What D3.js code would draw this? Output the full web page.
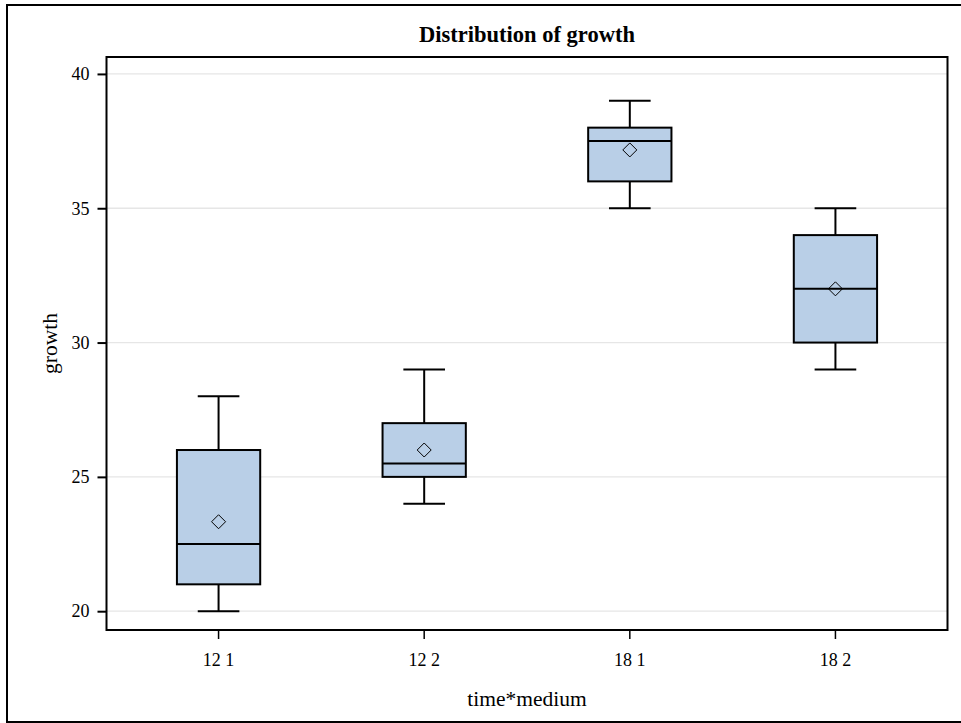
<!DOCTYPE html>
<html>
<head>
<meta charset="utf-8">
<script src="https://cdn.jsdelivr.net/npm/d3@7"></script>
<style>
  html, body { margin: 0; padding: 0; background: #fff; }
  svg text { font-family: "Liberation Serif", "DejaVu Serif", serif; fill: #000; }
</style>
</head>
<body>
<div id="chart"></div>
<script>
// groups on the x axis (time*medium)
const categories = ["12 1", "12 2", "18 1", "18 2"];
// five-number summaries per group, plus mean
const whiskerLow = [20, 24, 35, 29];
const q1 = [21, 25, 36, 30];
const median = [22.5, 25.5, 37.5, 32];
const q3 = [26, 27, 38, 34];
const whiskerHigh = [28, 29, 39, 35];
const means = [23.33, 26, 37.17, 32];
const yTicks = [20, 25, 30, 35, 40];

const width = 961, height = 723;
const margin = { left: 106.5, top: 57, right: 961 - 947.5, bottom: 723 - 630 };
const plotW = width - margin.right - margin.left;
const plotCx = margin.left + plotW / 2;

const svg = d3.select("#chart").append("svg")
    .attr("width", width)
    .attr("height", height);

// outer frame (right edge runs off the picture)
svg.append("rect")
    .attr("x", 7).attr("y", 5)
    .attr("width", 962).attr("height", 717)
    .attr("fill", "none").attr("stroke", "#000").attr("stroke-width", 2);

const x = d3.scaleBand()
    .domain(categories)
    .range([margin.left, width - margin.right])
    .paddingInner(0)
    .paddingOuter(0.045);

const y = d3.scaleLinear()
    .domain([19.3, 40.63])
    .range([height - margin.bottom, margin.top]);

// grid lines
svg.append("g")
    .selectAll("line")
    .data(yTicks)
    .join("line")
    .attr("x1", margin.left).attr("x2", width - margin.right)
    .attr("y1", d => y(d)).attr("y2", d => y(d))
    .attr("stroke", "#e6e6e6").attr("stroke-width", 1.3);

const boxW = x.bandwidth() * 0.405;
const capW = boxW / 2;

const data = categories.map((c, i) => ({
    cat: c, lo: whiskerLow[i], q1: q1[i], med: median[i], q3: q3[i], hi: whiskerHigh[i], mean: means[i]
}));

const boxes = svg.append("g")
    .selectAll("g")
    .data(data)
    .join("g")
    .attr("transform", d => `translate(${x(d.cat) + x.bandwidth() / 2},0)`);

// whiskers
boxes.append("line")
    .attr("x1", 0).attr("x2", 0)
    .attr("y1", d => y(d.lo)).attr("y2", d => y(d.q1))
    .attr("stroke", "#000").attr("stroke-width", 2);
boxes.append("line")
    .attr("x1", 0).attr("x2", 0)
    .attr("y1", d => y(d.q3)).attr("y2", d => y(d.hi))
    .attr("stroke", "#000").attr("stroke-width", 2);
boxes.selectAll(".cap")
    .data(d => [d.lo, d.hi])
    .join("line")
    .attr("class", "cap")
    .attr("x1", -capW / 2).attr("x2", capW / 2)
    .attr("y1", v => y(v)).attr("y2", v => y(v))
    .attr("stroke", "#000").attr("stroke-width", 2);

// box
boxes.append("rect")
    .attr("x", -boxW / 2)
    .attr("width", boxW)
    .attr("y", d => y(d.q3))
    .attr("height", d => y(d.q1) - y(d.q3))
    .attr("fill", "#b9cfe7")
    .attr("stroke", "#000").attr("stroke-width", 2);

// median
boxes.append("line")
    .attr("x1", -boxW / 2).attr("x2", boxW / 2)
    .attr("y1", d => y(d.med)).attr("y2", d => y(d.med))
    .attr("stroke", "#000").attr("stroke-width", 2);

// mean marker (diamond)
const dm = 7;
boxes.append("path")
    .attr("d", d => {
        const cy = y(d.mean);
        return `M0,${cy - dm}L${dm},${cy}L0,${cy + dm}L${-dm},${cy}Z`;
    })
    .attr("fill", "none")
    .attr("stroke", "#000").attr("stroke-width", 1);

// plot frame
svg.append("rect")
    .attr("x", margin.left).attr("y", margin.top)
    .attr("width", plotW).attr("height", height - margin.bottom - margin.top)
    .attr("fill", "none").attr("stroke", "#000").attr("stroke-width", 2);

// axes
const yAxis = svg.append("g")
    .attr("transform", `translate(${margin.left},0)`)
    .call(d3.axisLeft(y).tickValues(yTicks).tickSize(9).tickPadding(8));
yAxis.select(".domain").remove();
yAxis.selectAll("line").attr("stroke", "#000").attr("stroke-width", 2);
yAxis.selectAll("text").attr("font-size", 18).attr("font-family", "Liberation Serif");

const xAxis = svg.append("g")
    .attr("transform", `translate(0,${height - margin.bottom})`)
    .call(d3.axisBottom(x).tickSize(9));
xAxis.select(".domain").remove();
xAxis.selectAll("line").attr("stroke", "#000").attr("stroke-width", 1.5);
xAxis.selectAll("text")
    .attr("font-size", 18).attr("font-family", "Liberation Serif")
    .attr("y", 36).attr("dy", null);

// labels
svg.append("text")
    .attr("x", plotCx).attr("y", 42)
    .attr("text-anchor", "middle")
    .attr("font-size", 22.5).attr("font-weight", "bold")
    .text("Distribution of growth");

svg.append("text")
    .attr("x", plotCx).attr("y", 706)
    .attr("text-anchor", "middle")
    .attr("font-size", 21.5)
    .text("time*medium");

svg.append("text")
    .attr("transform", `translate(57,${margin.top + (height - margin.bottom - margin.top) / 2}) rotate(-90)`)
    .attr("text-anchor", "middle")
    .attr("font-size", 21.5)
    .text("growth");
</script>
</body>
</html>
